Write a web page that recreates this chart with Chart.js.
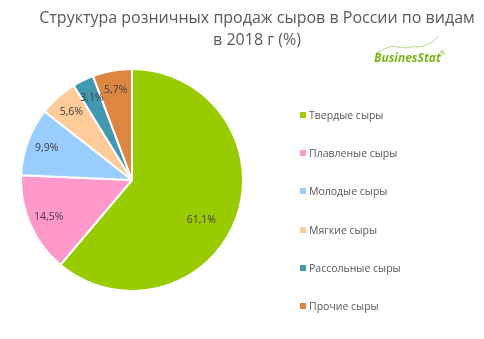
<!DOCTYPE html>
<html>
<head>
<meta charset="utf-8">
<script src="https://cdn.jsdelivr.net/npm/chart.js@4/dist/chart.umd.min.js"></script>
<style>
  html, body { margin: 0; padding: 0; background: #fff; }
  #wrap { position: relative; width: 484px; height: 339px; font-family: "Open Sans", sans-serif; }
  #pie { position: absolute; left: 0; top: 0; }
  .title { position: absolute; left: 0; width: 514px; text-align: center; color: #595959; font-size: 16px; line-height: 22px; }
  .legend { position: absolute; left: 300px; top: 0; color: #595959; font-size: 10.5px; }
  .legend div { position: absolute; white-space: nowrap; }
  .legend span { display: inline-block; width: 6px; height: 6px; margin-right: 3px; vertical-align: 1px; }
</style>
</head>
<body>
<div id="wrap">
  <canvas id="pie" width="484" height="339"></canvas>
  <div class="title" style="top:6px">Структура розничных продаж сыров в России по видам<br>в 2018 г (%)</div>
  <div class="legend" id="legend"></div>
</div>
<script>
const categories = ['Твердые сыры', 'Плавленые сыры', 'Молодые сыры', 'Мягкие сыры', 'Рассольные сыры', 'Прочие сыры'];
const shares = [61.1, 14.5, 9.9, 5.6, 3.1, 5.7];
const colors = ['#99cc00', '#ff99cc', '#99ccff', '#ffcc99', '#4298b0', '#dd8642'];

// legend on the right, one row every 38px
const legend = document.getElementById('legend');
categories.forEach((name, i) => {
  const row = document.createElement('div');
  row.style.top = (108 + i * 38.2) + 'px';
  row.innerHTML = '<span style="background:' + colors[i] + '"></span>' + name;
  legend.appendChild(row);
});

// percent labels inside the slices
const sliceLabels = {
  id: 'sliceLabels',
  afterDatasetsDraw(chart) {
    const ctx = chart.ctx;
    const meta = chart.getDatasetMeta(0);
    ctx.save();
    ctx.font = '10.5px "Open Sans", sans-serif';
    ctx.fillStyle = '#404040';
    ctx.textAlign = 'center';
    ctx.textBaseline = 'middle';
    meta.data.forEach((arc, i) => {
      const p = arc.getProps(['x', 'y', 'startAngle', 'endAngle', 'outerRadius'], true);
      // the big slice gets its label nudged a bit past the bisector
      const big = shares[i] > 50;
      const mid = (p.startAngle + p.endAngle) / 2 + (big ? 0.17 : 0);
      const k = big ? 0.72 : 0.82;
      const text = shares[i].toFixed(1).replace('.', ',') + '%';
      ctx.fillText(text, p.x + Math.cos(mid) * p.outerRadius * k, p.y + Math.sin(mid) * p.outerRadius * k);
    });
    ctx.restore();
  }
};

// BusinesStat logo, top right
const logo = {
  id: 'logo',
  afterDraw(chart) {
    const ctx = chart.ctx;
    ctx.save();
    ctx.strokeStyle = '#b5d98a';
    ctx.lineWidth = 1;
    ctx.beginPath();
    ctx.moveTo(376, 53);
    ctx.bezierCurveTo(385, 50, 390, 44, 398, 47);
    ctx.bezierCurveTo(405, 49, 410, 46, 418, 47);
    ctx.bezierCurveTo(428, 46, 434, 41, 439, 36);
    ctx.stroke();
    ctx.fillStyle = '#7ab51d';
    ctx.font = 'italic bold 12px "Open Sans", sans-serif';
    ctx.textBaseline = 'alphabetic';
    ctx.fillText('BusinesStat', 374, 62);
    ctx.font = '6px "Open Sans", sans-serif';
    ctx.fillText('®', 440, 55);
    ctx.restore();
  }
};

new Chart(document.getElementById('pie'), {
  type: 'pie',
  data: {
    labels: categories,
    datasets: [{
      data: shares,
      backgroundColor: colors,
      borderColor: '#ffffff',
      borderWidth: 2
    }]
  },
  options: {
    responsive: false,
    animation: false,
    layout: { padding: { left: 20, right: 240, top: 68, bottom: 47 } },
    plugins: {
      legend: { display: false },
      tooltip: { enabled: false }
    }
  },
  plugins: [sliceLabels, logo]
});
</script>
</body>
</html>
